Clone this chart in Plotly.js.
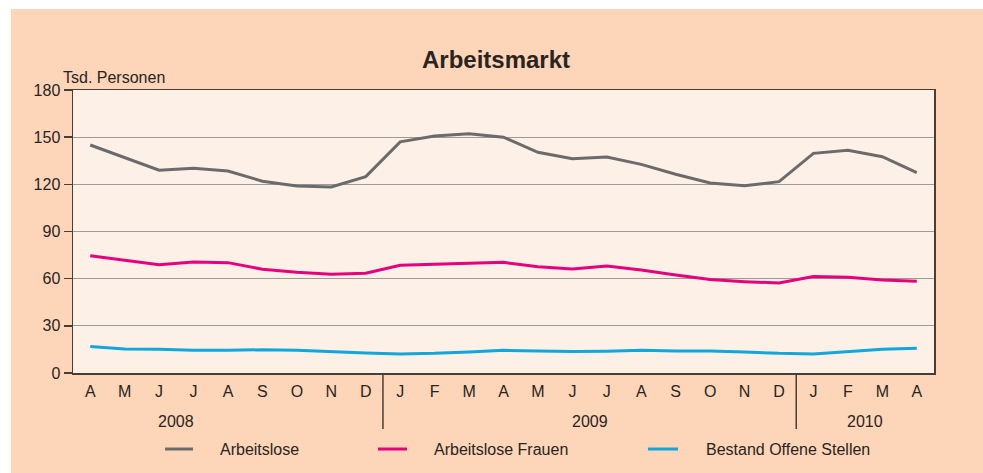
<!DOCTYPE html>
<html>
<head>
<meta charset="utf-8">
<script src="https://cdn.plot.ly/plotly-3.0.1.min.js"></script>
<style>
  html, body { margin: 0; padding: 0; background: #ffffff; }
  #chart { position: absolute; left: 11px; top: 9px; width: 972px; height: 464px; }
</style>
</head>
<body>
<div id="chart"></div>
<script>
// Categories: April 2008 .. April 2010
const categories = [
  "2008-04","2008-05","2008-06","2008-07","2008-08","2008-09","2008-10","2008-11","2008-12",
  "2009-01","2009-02","2009-03","2009-04","2009-05","2009-06","2009-07","2009-08","2009-09","2009-10","2009-11","2009-12",
  "2010-01","2010-02","2010-03","2010-04"
];
const monthLabels = ["A","M","J","J","A","S","O","N","D","J","F","M","A","M","J","J","A","S","O","N","D","J","F","M","A"];
const yearLabels = ["2008","2009","2010"];
const yearLabelPos = [2.5, 14.5, 22.5];
const yearBreaks = [8.5, 20.5];

const arbeitslose = [145.0,137.0,129.0,130.2,128.5,122.0,119.0,118.3,124.9,
  147.0,150.7,152.2,150.0,140.4,136.3,137.4,132.7,126.4,120.9,119.1,121.7,
  139.7,141.6,137.6,127.4];
const arbeitsloseFrauen = [74.6,71.9,68.9,70.6,70.2,66.0,64.1,62.8,63.4,
  68.5,69.0,69.5,70.4,67.6,66.1,68.0,65.5,62.3,59.4,58.1,57.2,
  61.3,60.9,59.2,58.3];
const offeneStellen = [16.8,15.3,15.1,14.4,14.4,14.8,14.4,13.4,12.7,
  12.1,12.5,13.4,14.4,14.0,13.6,13.8,14.4,14.0,14.0,13.4,12.5,
  12.1,13.4,15.1,15.7];

const seriesNames = ["Arbeitslose","Arbeitslose Frauen","Bestand Offene Stellen"];
const seriesColors = ["#6b6b6b","#e6007e","#10a7dc"];
const seriesData = [arbeitslose, arbeitsloseFrauen, offeneStellen];

const txt = "#2a2420";
const axisCol = "#4a3d35";

const traces = seriesData.map((d, i) => ({
  type: "scatter", mode: "lines", x: categories, y: d, name: seriesNames[i],
  line: {color: seriesColors[i], width: 3}, showlegend: false, hoverinfo: "x+y"
}));

// manual legend (paper coords)
const legendLineX = [[0.1069,0.1394],[0.3542,0.3879],[0.6678,0.7027]];
const legendTextX = [0.1684,0.4170,0.7329];
const legendY = -0.2686;

const shapes = [];
yearBreaks.forEach(xb => shapes.push({
  type: "line", xref: "x", yref: "paper", x0: xb, x1: xb, y0: 0, y1: -0.198,
  line: {color: axisCol, width: 1.5}
}));
legendLineX.forEach((lx, i) => shapes.push({
  type: "line", xref: "paper", yref: "paper", x0: lx[0], x1: lx[1], y0: legendY, y1: legendY,
  line: {color: seriesColors[i], width: 3}
}));

const annotations = [];
yearLabels.forEach((y, i) => annotations.push({
  text: y, xref: "x", yref: "paper", x: yearLabelPos[i], y: -0.173, yanchor: "middle",
  showarrow: false, font: {size: 16, color: txt}
}));
seriesNames.forEach((n, i) => annotations.push({
  text: n, xref: "paper", yref: "paper", x: legendTextX[i], xanchor: "left", y: legendY, yanchor: "middle",
  showarrow: false, font: {size: 16, color: txt}
}));
annotations.push({
  text: "Tsd. Personen", xref: "paper", yref: "paper", x: -0.0135, xanchor: "left",
  y: 1.043, yanchor: "middle", showarrow: false, font: {size: 16, color: txt}
});

const layout = {
  width: 972, height: 464,
  margin: {l: 62, r: 49, t: 81, b: 100},
  paper_bgcolor: "#fdd5b9",
  plot_bgcolor: "#fdf0e6",
  font: {family: "Liberation Sans, Arial, sans-serif", size: 16, color: txt},
  title: {text: "<b>Arbeitsmarkt</b>", x: 0.499, xref: "container", y: 0.89, yanchor: "middle",
          font: {size: 24, color: txt}},
  xaxis: {
    type: "category", range: [-0.5, 24.5], tickvals: categories, ticktext: monthLabels,
    showgrid: false, showline: true, linecolor: axisCol, linewidth: 1.5, mirror: true,
    ticks: "", ticklen: 0, ticklabelstandoff: 3, tickfont: {size: 16, color: txt}, zeroline: false, fixedrange: true
  },
  yaxis: {
    range: [0, 180], tickvals: [0,30,60,90,120,150,180],
    showgrid: true, gridcolor: "#a09a96", gridwidth: 1,
    showline: true, linecolor: axisCol, linewidth: 1.5, mirror: true,
    ticks: "outside", ticklen: 8, tickcolor: axisCol, tickwidth: 1.5,
    tickfont: {size: 16, color: txt}, zeroline: false, fixedrange: true
  },
  shapes: shapes,
  annotations: annotations,
  showlegend: false
};

Plotly.newPlot("chart", traces, layout, {displayModeBar: false, staticPlot: true});
</script>
</body>
</html>
